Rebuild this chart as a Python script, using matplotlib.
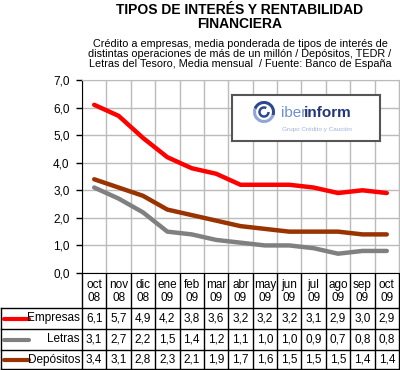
import matplotlib
matplotlib.use("Agg")
import matplotlib.pyplot as plt
from matplotlib.patches import Arc

plt.rcParams['font.family'] = ['Liberation Sans', 'DejaVu Sans']

meses = ['oct\n08', 'nov\n08', 'dic\n08', 'ene\n09', 'feb\n09', 'mar\n09', 'abr\n09',
         'may\n09', 'jun\n09', 'jul\n09', 'ago\n09', 'sep\n09', 'oct\n09']
empresas = [6.1, 5.7, 4.9, 4.2, 3.8, 3.6, 3.2, 3.2, 3.2, 3.1, 2.9, 3.0, 2.9]
letras = [3.1, 2.7, 2.2, 1.5, 1.4, 1.2, 1.1, 1.0, 1.0, 0.9, 0.7, 0.8, 0.8]
depositos = [3.4, 3.1, 2.8, 2.3, 2.1, 1.9, 1.7, 1.6, 1.5, 1.5, 1.5, 1.4, 1.4]

series = [('Empresas', empresas, '#FF0000'),
          ('Letras', letras, '#808080'),
          ('Depósitos', depositos, '#993300')]

W, H = 400, 370
fig = plt.figure(figsize=(4, 3.7), dpi=100)

# plot area in pixels
x0, x1, ytop, ybot = 82, 399, 80, 273
ax = fig.add_axes([x0 / W, (H - ybot) / H, (x1 - x0) / W, (ybot - ytop) / H])
n = len(meses)
xs = list(range(n))
for name, vals, col in series:
    ax.plot(xs, vals, color=col, lw=3.2, solid_capstyle='round', solid_joinstyle='round', zorder=3)

ax.set_xlim(-0.5, n - 0.5)
ax.set_ylim(0, 7)
ax.set_yticks([i for i in range(8)])
ax.set_yticklabels([f'{i},0' for i in range(8)], fontsize=8.5)
ax.set_xticks([i - 0.5 for i in range(n + 1)])
ax.set_xticklabels([])
ax.tick_params(axis='x', length=0)
ax.tick_params(axis='y', length=4, width=1, pad=5)
ax.grid(True, color='#BBBBBB', lw=1)
ax.set_axisbelow(True)
for s in ['top', 'right']:
    ax.spines[s].set_color('#BBBBBB')
ax.spines['left'].set_color('black')
ax.spines['bottom'].set_color('black')

# logo box, drawn in pixel coords
logo = fig.add_axes([232 / W, (H - 141) / H, 148 / W, 46 / H])
logo.set_xlim(232, 380)
logo.set_ylim(141, 95)
logo.set_xticks([])
logo.set_yticks([])
for s in logo.spines.values():
    s.set_color('#555555')
    s.set_linewidth(1.5)
logo.add_patch(Arc((264, 112), 19, 19, theta1=200, theta2=20, color='#2E4A8C', lw=2.2))
logo.add_patch(Arc((264, 112), 19, 19, theta1=20, theta2=200, color='#8FA6D6', lw=2.2))
logo.add_patch(Arc((264, 112), 9, 9, theta1=0, theta2=300, color='#2E4A8C', lw=1.8))
logo.text(281, 113, 'iber', color='#6F8FCF', fontsize=11, ha='left', va='center')
logo.text(304, 113, 'inform', color='#24367A', fontsize=11, ha='left', va='center',
          fontweight='bold')
logo.text(282, 129, 'Grupo Crédito y Caución', color='#9FB3DD', fontsize=4.6, ha='left',
          va='center')

# table below
colw = (x1 - x0) / n
tab = fig.add_axes([0, 0, 1, (H - ybot) / H])
tab.set_xlim(0, W)
tab.set_ylim(H, ybot)
tab.axis('off')
rows = [ybot, 308, 329, 350, 369]
for k in range(n + 1):
    xx = x0 + k * colw
    tab.plot([xx, xx], [ybot, rows[-1]], color='black', lw=1)
tab.plot([1, 1], [rows[1], rows[-1]], color='black', lw=1)
for r in rows[1:]:
    tab.plot([1, x1], [r, r], color='black', lw=1)
for k, m in enumerate(meses):
    tab.text(x0 + (k + 0.5) * colw, (rows[0] + rows[1]) / 2 + 1, m, ha='center', va='center',
             fontsize=8.5, linespacing=1.2)
for j, (name, vals, col) in enumerate(series):
    yc = (rows[j + 1] + rows[j + 2]) / 2
    tab.plot([4, 29], [yc, yc], color=col, lw=3, solid_capstyle='round')
    tab.text(x0 - 2, yc, name, ha='right', va='center', fontsize=8.5)
    for k, v in enumerate(vals):
        tab.text(x0 + (k + 0.5) * colw, yc, f'{v:.1f}'.replace('.', ','), ha='center',
                 va='center', fontsize=8.5)

# titles
fig.text(240 / W, 1 - 17 / H, 'TIPOS DE INTERÉS Y RENTABILIDAD\nFINANCIERA', ha='center',
         va='center', fontsize=10, fontweight='bold', linespacing=1.0)
fig.text(240 / W, 1 - 54 / H,
         'Crédito a empresas, media ponderada de tipos de interés de\n'
         'distintas operaciones de más de un millón / Depósitos, TEDR /\n'
         'Letras del Tesoro, Media mensual  / Fuente: Banco de España',
         ha='center', va='center', fontsize=7.8, linespacing=1.0)

fig.savefig('out.png', dpi=100)
